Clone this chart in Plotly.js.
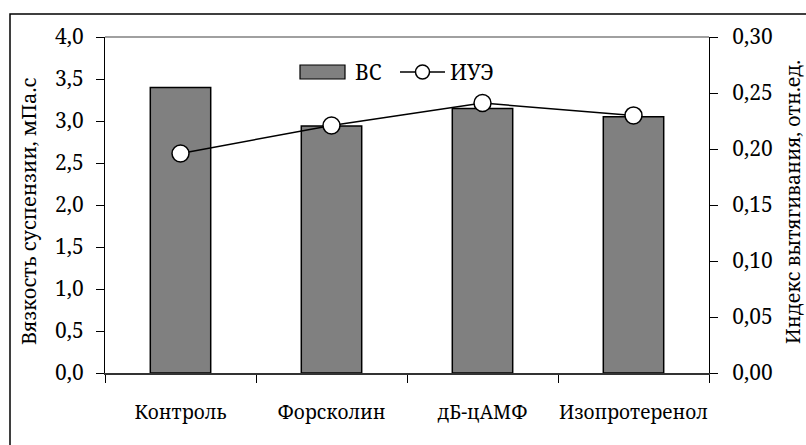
<!DOCTYPE html>
<html>
<head>
<meta charset="utf-8">
<script src="https://cdn.plot.ly/plotly-3.0.1.min.js"></script>
<style>html,body{margin:0;padding:0;background:#fff;}#chart{width:806px;height:445px;}</style>
</head>
<body>
<div id="chart"></div>
<script>
const categories = ['Контроль', 'Форсколин', 'дБ-цАМФ', 'Изопротеренол'];
const viscosity = [3.4, 2.94, 3.15, 3.05];      // ВС, мПа.с
const elongation = [0.196, 0.221, 0.241, 0.230]; // ИУЭ, отн.ед.
const leftTicks = [0, 0.5, 1, 1.5, 2, 2.5, 3, 3.5, 4];
const rightTicks = [0, 0.05, 0.1, 0.15, 0.2, 0.25, 0.3];
const seriesNames = ['ВС', 'ИУЭ'];
const axisTitles = ['Вязкость суспензии, мПа.с', 'Индекс вытягивания, отн.ед.'];

const FONT = 'Noto Serif';

const traces = [
  {
    type: 'bar', x: categories, y: viscosity, name: seriesNames[0],
    width: 0.4,
    marker: {color: '#808080', line: {color: '#000', width: 1.5}},
    yaxis: 'y', showlegend: false, hoverinfo: 'skip'
  },
  {
    type: 'scatter', mode: 'lines+markers', x: categories, y: elongation, name: seriesNames[1],
    line: {color: '#000', width: 1.5},
    marker: {symbol: 'circle', size: 17, color: '#fff', line: {color: '#000', width: 1.5}},
    yaxis: 'y2', showlegend: false, hoverinfo: 'skip'
  }
];

// paper-coordinate helpers (plot area: x 105..709, y 37..373)
const L = 105, R = 709, T = 37, B = 373;
const px = x => (x - L) / (R - L);
const py = y => (B - y) / (B - T);

const layout = {
  width: 806, height: 445,
  margin: {l: L, r: 806 - R, t: T, b: 445 - B, pad: 0},
  paper_bgcolor: '#fff', plot_bgcolor: '#fff',
  separators: ', ',
  font: {family: FONT, size: 20, color: '#000'},
  showlegend: false,
  xaxis: {
    type: 'category', tickson: 'boundaries', tickangle: 0,
    ticks: 'outside', ticklen: 8, tickcolor: '#000', tickwidth: 1,
    showline: true, linecolor: '#333', linewidth: 1.5,
    showgrid: false, zeroline: false,
    tickfont: {family: FONT, size: 19, color: '#000'},
    ticklabelstandoff: 22,
    fixedrange: true
  },
  yaxis: {
    range: [0, 4], tickvals: leftTicks, tickformat: '.1f',
    ticks: 'outside', ticklen: 8, tickcolor: '#000', tickwidth: 1,
    showline: true, linecolor: '#000', linewidth: 1,
    showgrid: false, zeroline: false,
    tickfont: {family: FONT, size: 21, color: '#000'},
    ticklabelstandoff: 8
  },
  yaxis2: {
    overlaying: 'y', side: 'right', range: [0, 0.3], tickvals: rightTicks, tickformat: '.2f',
    ticks: 'outside', ticklen: 8, tickcolor: '#000', tickwidth: 1,
    showline: true, linecolor: '#000', linewidth: 1,
    showgrid: false, zeroline: false,
    tickfont: {family: FONT, size: 21, color: '#000'},
    ticklabelstandoff: 10
  },
  yaxis3: {
    overlaying: 'y', side: 'right', range: [0, 0.3], tickvals: rightTicks,
    ticks: 'inside', ticklen: 7, tickcolor: '#000', tickwidth: 1,
    showticklabels: false, showline: false, showgrid: false, zeroline: false
  },
  shapes: [
    // gray top border of plot area
    {type: 'line', xref: 'paper', yref: 'paper', x0: 0, x1: 1, y0: 1, y1: 1, line: {color: '#808080', width: 1.5}},
    // outer frame (right and bottom edges fall outside the picture)
    {type: 'rect', xref: 'paper', yref: 'paper', x0: px(10), x1: px(812), y0: py(14), y1: py(452), line: {color: '#000', width: 1.5}},
    // legend: bar swatch
    {type: 'rect', xref: 'paper', yref: 'paper', x0: px(300), x1: px(345), y0: py(79), y1: py(65), fillcolor: '#808080', line: {color: '#000', width: 1.2}},
    // legend: line symbol
    {type: 'line', xref: 'paper', yref: 'paper', x0: px(400), x1: px(445), y0: py(72), y1: py(72), line: {color: '#000', width: 1.5}},
    {type: 'circle', xref: 'paper', yref: 'paper', x0: px(415.5), x1: px(429.5), y0: py(79), y1: py(65), fillcolor: '#fff', line: {color: '#000', width: 1.5}}
  ],
  annotations: [
    {xref: 'paper', yref: 'paper', x: px(353), y: py(72), xanchor: 'left', yanchor: 'middle', showarrow: false, text: seriesNames[0], font: {family: FONT, size: 21, color: '#000'}},
    {xref: 'paper', yref: 'paper', x: px(448), y: py(72), xanchor: 'left', yanchor: 'middle', showarrow: false, text: seriesNames[1], font: {family: FONT, size: 21, color: '#000'}},
    {xref: 'paper', yref: 'paper', x: px(29), y: py(211), xanchor: 'center', yanchor: 'middle', textangle: -90, showarrow: false, text: axisTitles[0], font: {family: FONT, size: 20, color: '#000'}},
    {xref: 'paper', yref: 'paper', x: px(792), y: py(202), xanchor: 'center', yanchor: 'middle', textangle: -90, showarrow: false, text: axisTitles[1], font: {family: FONT, size: 19.5, color: '#000'}}
  ]
};

Plotly.newPlot('chart', traces, layout, {staticPlot: true, displayModeBar: false});
</script>
</body>
</html>
